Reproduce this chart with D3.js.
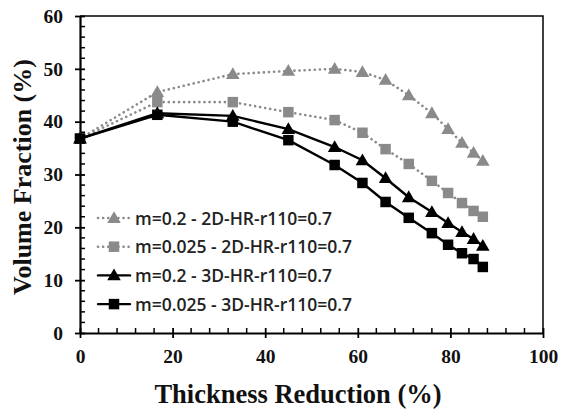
<!DOCTYPE html>
<html>
<head>
<meta charset="utf-8">
<script src="https://cdn.jsdelivr.net/npm/d3@7"></script>
<style>
  body { margin: 0; background: #fff; }
  svg { display: block; }
</style>
</head>
<body>
<svg id="chart" width="564" height="414"></svg>
<script>
// thickness reduction (%) for every point
var thickness = [0, 16.7, 33, 45, 55, 61, 66, 71, 76, 79.5, 82.5, 85, 87];

// volume fraction (%) per series
var m02_2d  = [36.8, 45.6, 49.0, 49.6, 50.0, 49.4, 47.9, 45.0, 41.6, 38.6, 36.0, 34.1, 32.6];
var m025_2d = [36.8, 43.7, 43.7, 41.8, 40.3, 37.9, 34.8, 32.0, 28.8, 26.5, 24.6, 23.1, 22.0];
var m02_3d  = [36.8, 41.6, 41.1, 38.6, 35.2, 32.7, 29.3, 25.7, 22.9, 20.8, 19.1, 17.8, 16.5];
var m025_3d = [36.8, 41.3, 40.0, 36.5, 31.8, 28.4, 24.8, 21.8, 18.9, 16.7, 15.1, 14.0, 12.5];

var seriesNames = ["m=0.2 - 2D-HR-r110=0.7", "m=0.025 - 2D-HR-r110=0.7",
                   "m=0.2 - 3D-HR-r110=0.7", "m=0.025 - 3D-HR-r110=0.7"];

var xTicks = [0, 20, 40, 60, 80, 100];
var yTicks = [0, 10, 20, 30, 40, 50, 60];

var svg = d3.select("#chart");
var plotL = 80, plotR = 543, plotT = 16, plotB = 333;

var x = d3.scaleLinear().domain([0, 100]).range([plotL, plotR]);
var y = d3.scaleLinear().domain([0, 60]).range([plotB, plotT]);

var gray = "#8a8a8a";
var series = [
  { name: seriesNames[0], values: m02_2d,  color: gray,   dash: "0.1,5", shape: "tri" },
  { name: seriesNames[1], values: m025_2d, color: gray,   dash: "0.1,5", shape: "sq" },
  { name: seriesNames[2], values: m02_3d,  color: "#000", dash: null,    shape: "tri" },
  { name: seriesNames[3], values: m025_3d, color: "#000", dash: null,    shape: "sq" }
];

// frame (top and right)
svg.append("path")
  .attr("d", "M" + plotL + "," + plotT + "H" + plotR + "V" + plotB)
  .attr("fill", "none").attr("stroke", "#000").attr("stroke-width", 1.5);

// minor ticks
var minorX = d3.range(0, 101, 4).filter(function(d) { return d % 20 != 0; });
var minorY = d3.range(0, 61, 2).filter(function(d) { return d % 10 != 0; });

svg.append("g").selectAll("line").data(minorX).enter().append("line")
  .attr("x1", function(d) { return x(d); }).attr("x2", function(d) { return x(d); })
  .attr("y1", plotB).attr("y2", plotB - 5)
  .attr("stroke", "#000").attr("stroke-width", 1.5);

svg.append("g").selectAll("line").data(minorY).enter().append("line")
  .attr("y1", function(d) { return y(d); }).attr("y2", function(d) { return y(d); })
  .attr("x1", plotL).attr("x2", plotL + 5)
  .attr("stroke", "#000").attr("stroke-width", 1.5);

// axes
var xAxis = svg.append("g")
  .attr("transform", "translate(0," + plotB + ")")
  .call(d3.axisBottom(x).tickValues(xTicks).tickSizeInner(5).tickSizeOuter(0).tickPadding(11));
var yAxis = svg.append("g")
  .attr("transform", "translate(" + plotL + ",0)")
  .call(d3.axisLeft(y).tickValues(yTicks).tickSizeInner(5).tickSizeOuter(0).tickPadding(12));

[xAxis, yAxis].forEach(function(a) {
  a.select(".domain").attr("stroke-width", 2.2);
  a.selectAll(".tick line").attr("stroke-width", 1.8);
  a.selectAll("text")
    .attr("font-family", "Liberation Serif")
    .attr("font-weight", "bold")
    .attr("font-size", 19.5)
    .attr("fill", "#111");
});
// major ticks cross the axis
xAxis.selectAll(".tick line").attr("y1", -5);
yAxis.selectAll(".tick line").attr("x1", 5);

// axis titles
svg.append("text")
  .attr("x", 298).attr("y", 403)
  .attr("text-anchor", "middle")
  .attr("font-family", "Liberation Serif").attr("font-weight", "bold").attr("font-size", 26.5)
  .attr("fill", "#111")
  .text("Thickness Reduction (%)");

svg.append("text")
  .attr("transform", "translate(31,177) rotate(-90)")
  .attr("text-anchor", "middle")
  .attr("font-family", "Liberation Serif").attr("font-weight", "bold").attr("font-size", 26)
  .attr("fill", "#111")
  .text("Volume Fraction (%)");

var line = d3.line()
  .x(function(d, i) { return x(thickness[i]); })
  .y(function(d) { return y(d); });

var triSym = d3.symbol().type(d3.symbolTriangle).size(80);
var sqSym = d3.symbol().type(d3.symbolSquare).size(110);

function drawMarker(g, shape, color, cx, cy) {
  g.append("path")
    .attr("d", shape == "tri" ? triSym() : sqSym())
    .attr("transform", "translate(" + cx + "," + (shape == "tri" ? cy + 1 : cy) + ")")
    .attr("fill", color);
}

var plot = svg.append("g");
series.forEach(function(s) {
  var g = plot.append("g");
  g.append("path")
    .attr("d", line(s.values))
    .attr("fill", "none")
    .attr("stroke", s.color)
    .attr("stroke-width", s.dash ? 2.6 : 2.4)
    .attr("stroke-linecap", "round")
    .attr("stroke-dasharray", s.dash);
  s.values.forEach(function(v, i) {
    drawMarker(g, s.shape, s.color, x(thickness[i]), y(v));
  });
});

// legend
var legend = svg.append("g");
series.forEach(function(s, i) {
  var ly = 218 + i * 28.7;
  legend.append("line")
    .attr("x1", 98).attr("x2", 130).attr("y1", ly).attr("y2", ly)
    .attr("stroke", s.color)
    .attr("stroke-width", s.dash ? 2.6 : 2.4)
    .attr("stroke-linecap", "round")
    .attr("stroke-dasharray", s.dash);
  drawMarker(legend, s.shape, s.color, 114, ly);
  legend.append("text")
    .attr("x", 135).attr("y", ly + 6.5)
    .attr("font-family", "Open Sans").attr("font-size", 17.5)
    .attr("font-weight", 600)
    .attr("fill", "#222")
    .text(s.name);
});
</script>
</body>
</html>
